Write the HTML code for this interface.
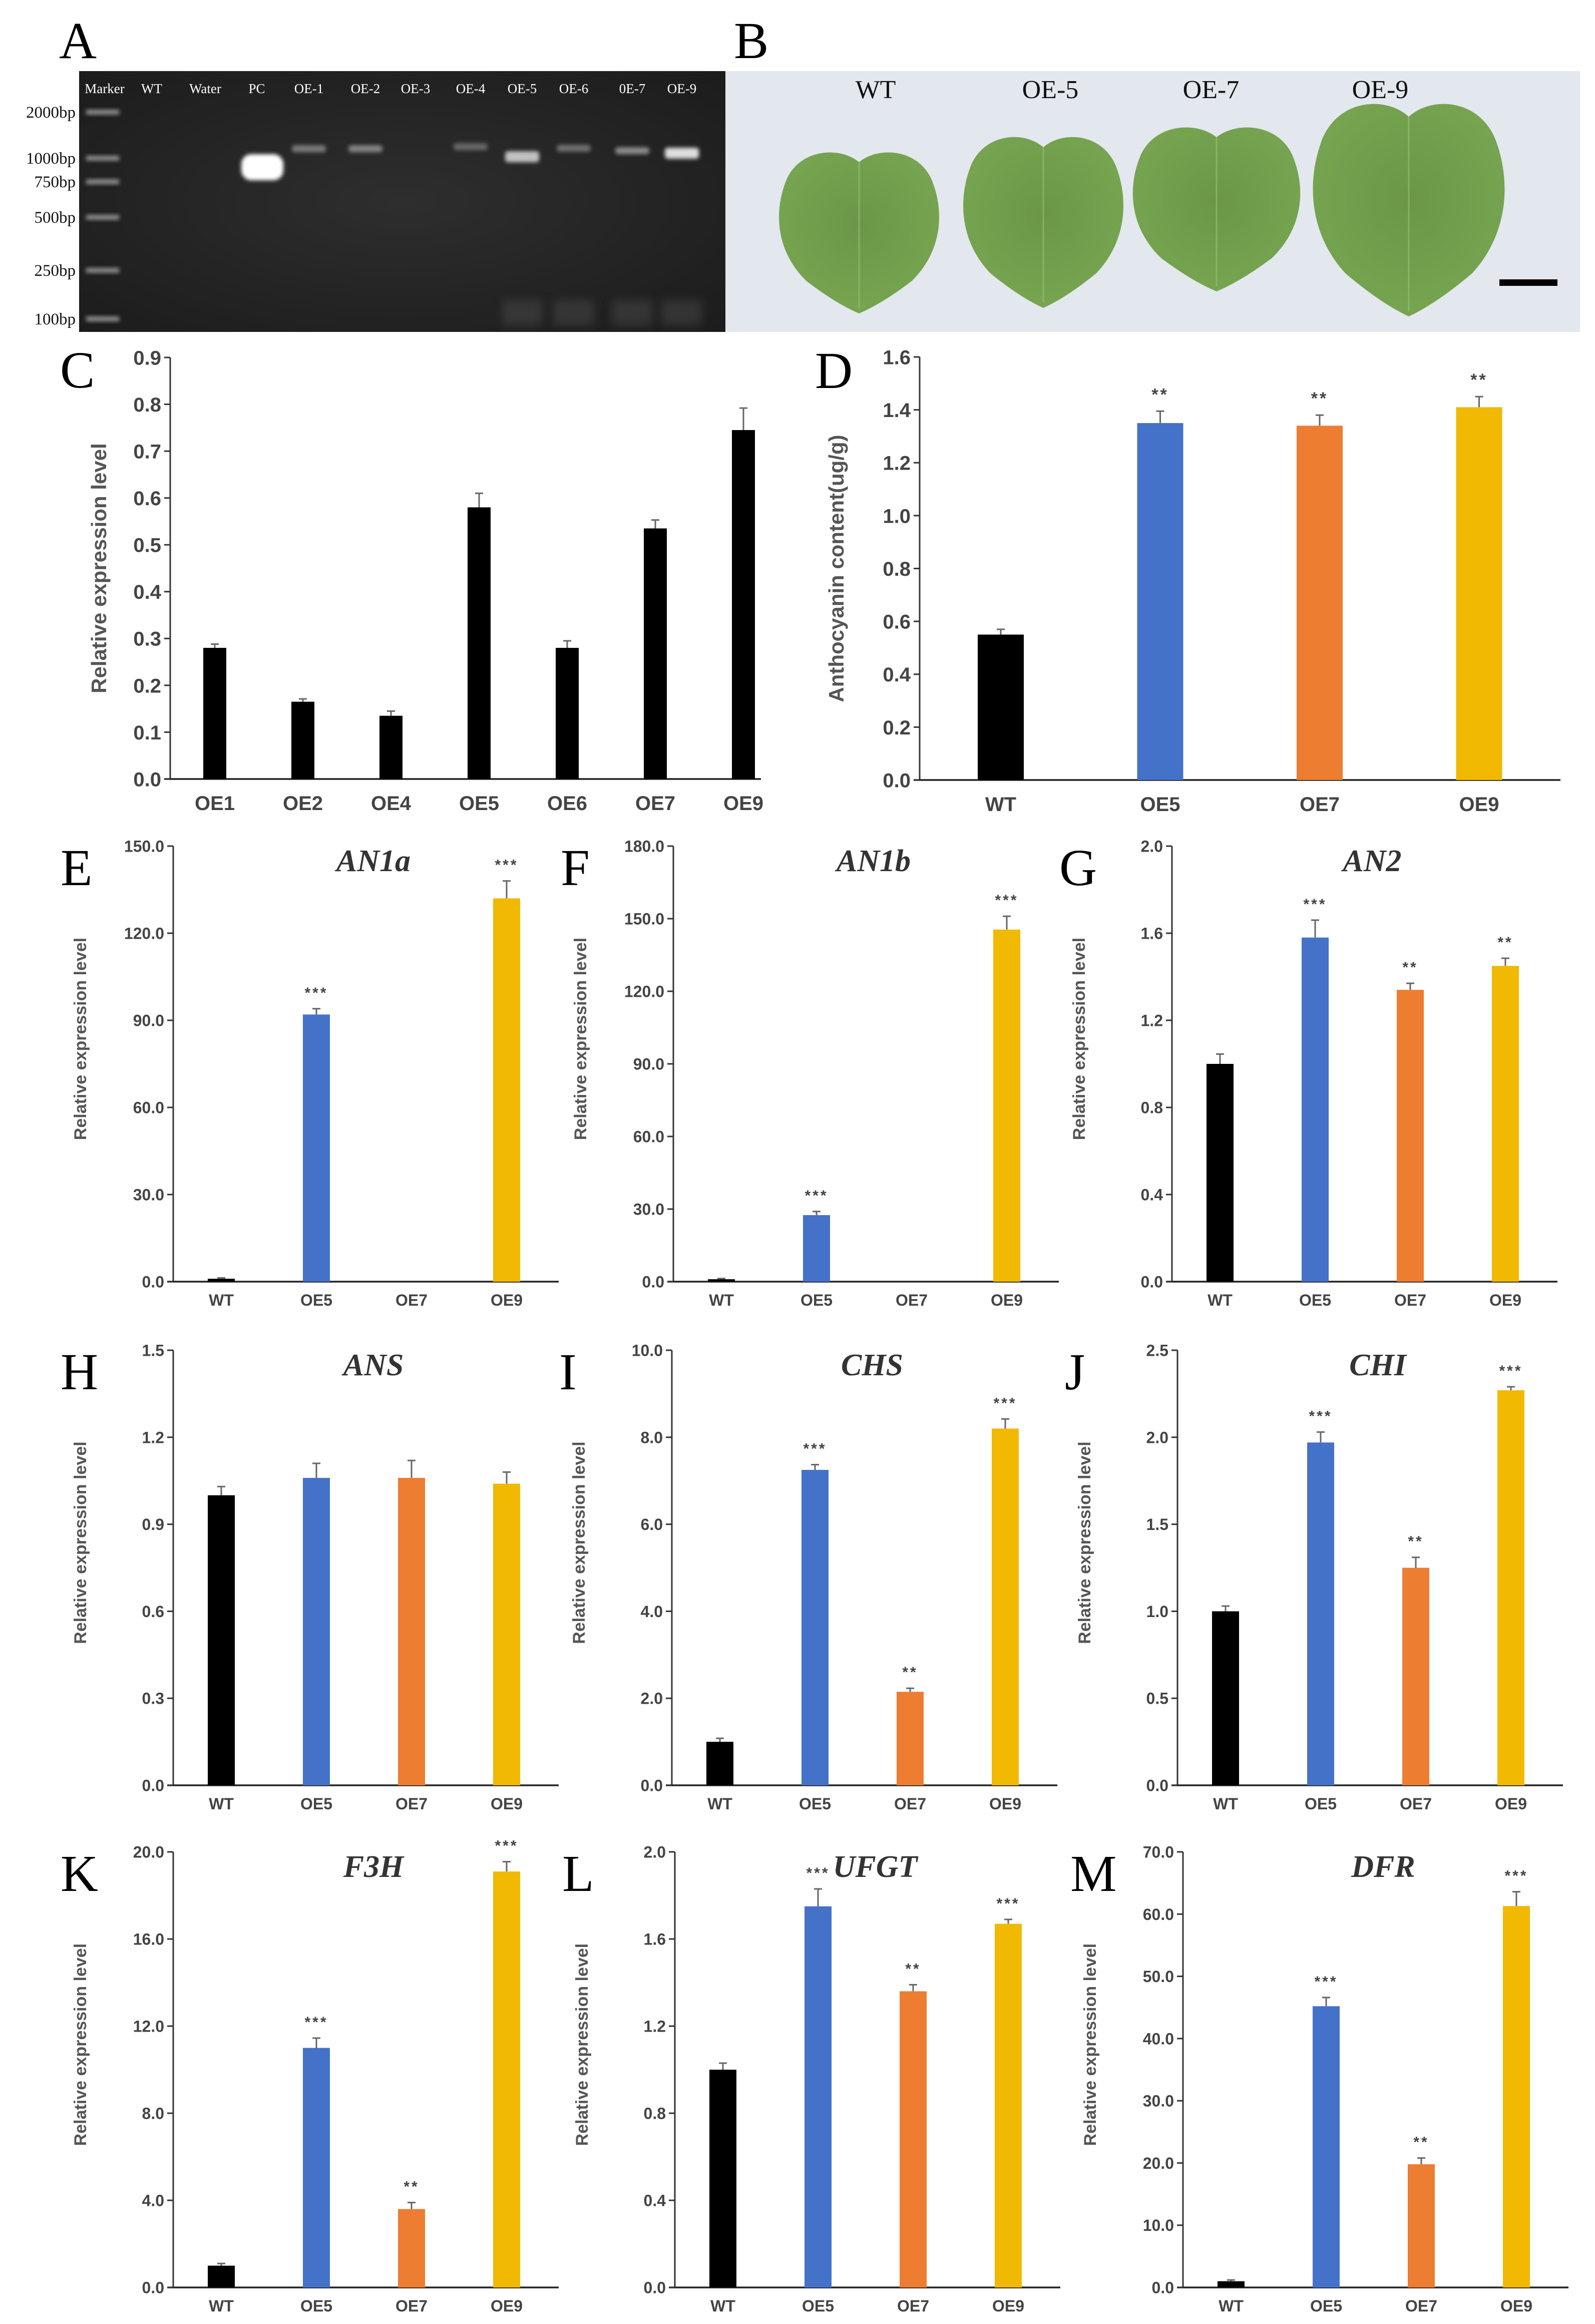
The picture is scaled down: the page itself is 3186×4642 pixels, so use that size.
<!DOCTYPE html>
<html><head><meta charset="utf-8"><title>Anthocyanin figure</title>
<style>
html,body{margin:0;padding:0;background:#fff;}
svg{display:block;}
</style></head>
<body>
<svg id="fig" xmlns="http://www.w3.org/2000/svg" width="3186" height="4642" viewBox="0 0 3186 4642">
<defs>
<filter id="blur" x="-50%" y="-50%" width="200%" height="200%"><feGaussianBlur stdDeviation="4"/></filter>
<filter id="blur2" x="-50%" y="-50%" width="200%" height="200%"><feGaussianBlur stdDeviation="9"/></filter>
<radialGradient id="gelbg" cx="0.5" cy="0.5" r="0.7"><stop offset="0" stop-color="#2e2e2e"/><stop offset="1" stop-color="#1c1c1c"/></radialGradient>
<radialGradient id="leafg" cx="0.5" cy="0.45" r="0.6"><stop offset="0" stop-color="#6a9646"/><stop offset="1" stop-color="#78a652"/></radialGradient>
</defs>
<g id="layer"></g>
</svg>
<script>
// ---------- Panel C data ----------
const cCategories = ["OE1","OE2","OE4","OE5","OE6","OE7","OE9"];
const cValues = [0.28,0.165,0.135,0.58,0.28,0.535,0.745];
const cErrors = [0.008,0.006,0.01,0.03,0.015,0.018,0.047];
const cTicks = ["0.0","0.1","0.2","0.3","0.4","0.5","0.6","0.7","0.8","0.9"];
// ---------- Panel D data ----------
const lineCategories = ["WT","OE5","OE7","OE9"];
const dValues = [0.55,1.35,1.34,1.41];
const dErrors = [0.02,0.045,0.04,0.04];
const dStars = ["","**","**","**"];
const dTicks = ["0.0","0.2","0.4","0.6","0.8","1.0","1.2","1.4","1.6"];
// ---------- Gene panels ----------
const geneNames = ["AN1a","AN1b","AN2","ANS","CHS","CHI","F3H","UFGT","DFR"];
const an1aValues=[1.0,92,0,132], an1aErrors=[0.3,2,0,6], an1aStars=["","***","","***"];
const an1aTicks=["0.0","30.0","60.0","90.0","120.0","150.0"];
const an1bValues=[1.0,27.5,0,145.5], an1bErrors=[0.3,1.5,0,5.5], an1bStars=["","***","","***"];
const an1bTicks=["0.0","30.0","60.0","90.0","120.0","150.0","180.0"];
const an2Values=[1.0,1.58,1.34,1.45], an2Errors=[0.045,0.08,0.03,0.035], an2Stars=["","***","**","**"];
const an2Ticks=["0.0","0.4","0.8","1.2","1.6","2.0"];
const ansValues=[1.0,1.06,1.06,1.04], ansErrors=[0.03,0.05,0.06,0.04], ansStars=["","","",""];
const ansTicks=["0.0","0.3","0.6","0.9","1.2","1.5"];
const chsValues=[1.0,7.25,2.15,8.2], chsErrors=[0.08,0.12,0.08,0.22], chsStars=["","***","**","***"];
const chsTicks=["0.0","2.0","4.0","6.0","8.0","10.0"];
const chiValues=[1.0,1.97,1.25,2.27], chiErrors=[0.03,0.06,0.06,0.02], chiStars=["","***","**","***"];
const chiTicks=["0.0","0.5","1.0","1.5","2.0","2.5"];
const f3hValues=[1.0,11.0,3.6,19.1], f3hErrors=[0.1,0.45,0.3,0.45], f3hStars=["","***","**","***"];
const f3hTicks=["0.0","4.0","8.0","12.0","16.0","20.0"];
const ufgtValues=[1.0,1.75,1.36,1.67], ufgtErrors=[0.03,0.08,0.03,0.02], ufgtStars=["","***","**","***"];
const ufgtTicks=["0.0","0.4","0.8","1.2","1.6","2.0"];
const dfrValues=[1.0,45.2,19.8,61.3], dfrErrors=[0.2,1.4,1.0,2.3], dfrStars=["","***","**","***"];
const dfrTicks=["0.0","10.0","20.0","30.0","40.0","50.0","60.0","70.0"];

const NS="http://www.w3.org/2000/svg";
const root=document.getElementById('layer');
const barColors=["#000000","#4472c9","#ed7d31","#f1b901"];
function mk(tag,attrs,parent,text){
  const e=document.createElementNS(NS,tag);
  for(const k in attrs) e.setAttribute(k,attrs[k]);
  if(text!==undefined) e.textContent=text;
  (parent||root).appendChild(e);
  return e;
}
function panelLetter(ch,x,y,g){
  const t=mk('text',{x:x,y:y,'font-family':'"Liberation Serif",serif','font-size':104,fill:'#000'},g,ch);
  
  
}

function barChart(o){
  const g=mk('g',{});
  
  
  const maxV=parseFloat(o.ticks[o.ticks.length-1]);
  const yS=v=>o.bottom-(v/maxV)*(o.bottom-o.top);
  const xS=i=>o.axisX+o.offset+i*o.step;
  const ya=mk('line',{x1:o.axisX,y1:o.top,x2:o.axisX,y2:o.bottom,stroke:'#333','stroke-width':3},g);
  
  
  const xa=mk('line',{x1:o.axisX-12,y1:o.bottom,x2:o.axisX+o.len,y2:o.bottom,stroke:'#222','stroke-width':3.5},g);
  
  
  o.ticks.forEach(t=>{
    const y=yS(parseFloat(t));
    mk('line',{x1:o.axisX-12,y1:y,x2:o.axisX,y2:y,stroke:'#333','stroke-width':3},g);
    const tl=mk('text',{x:o.axisX-18,y:y+o.tfs*0.36,'text-anchor':'end','font-family':'"Liberation Sans",sans-serif','font-weight':'bold','font-size':o.tfs,fill:'#444'},g,t);
    
    
  });
  o.values.forEach((v,i)=>{
    const x=xS(i), y=yS(v);
    const col=o.colors[i];
    if(o.errors[i]>0){
      const ye=yS(v+o.errors[i]);
      mk('line',{x1:x,y1:y,x2:x,y2:ye,stroke:'#666','stroke-width':3},g);
      mk('line',{x1:x-8,y1:ye,x2:x+8,y2:ye,stroke:'#666','stroke-width':3},g);
    }
    const b=mk('rect',{x:x-o.bw/2,y:y,width:o.bw,height:Math.max(o.bottom-y,0),fill:col},g);
    
    
    if(o.stars && o.stars[i]){
      const st=mk('text',{x:x,y:yS(v+o.errors[i])-22,'text-anchor':'middle','font-family':'"Liberation Sans",sans-serif','font-weight':'bold','font-size':o.sfs,fill:'#444','letter-spacing':4},g,o.stars[i]);
      
      
    }
    const xl=mk('text',{x:x,y:o.bottom+o.xly,'text-anchor':'middle','font-family':'"Liberation Sans",sans-serif','font-weight':'bold','font-size':o.xfs,fill:'#444'},g,o.cats[i]);
    
    
  });
  const cy=(o.top+o.bottom)/2+o.ytOff;
  const yt=mk('text',{x:o.ytX,y:cy,'text-anchor':'middle','font-family':'"Liberation Sans",sans-serif','font-weight':'bold','font-size':o.yfs,fill:'#555',transform:'rotate(-90 '+o.ytX+' '+cy+')'},g,o.ytitle);
  
  
  if(o.title){
    const tt=mk('text',{x:o.axisX+400,y:o.top+50,'text-anchor':'middle','font-family':'"Liberation Serif",serif','font-weight':'bold','font-style':'italic','font-size':62,fill:'#333'},g,o.title);
    
    
  }
  return g;
}

// ---------- Panel A: gel ----------
(function(){
  const g=mk('g',{});
  
  
  mk('rect',{x:158,y:142,width:1291,height:521,fill:'url(#gelbg)'},g);
  const lanes=[["Marker",209],["WT",303],["Water",410],["PC",513],["OE-1",617],["OE-2",730],["OE-3",830],["OE-4",940],["OE-5",1043],["OE-6",1146],["0E-7",1263],["OE-9",1362]];
  lanes.forEach(l=>{
    const t=mk('text',{x:l[1],y:186,'text-anchor':'middle','font-family':'"Liberation Serif",serif','font-size':27,fill:'#fff'},g,l[0]);
    
    
  });
  const markers=[["2000bp",224],["1000bp",316],["750bp",363],["500bp",434],["250bp",540],["100bp",637]];
  markers.forEach(m=>{
    mk('rect',{x:172,y:m[1]-5,width:66,height:10,fill:'#8a8a8a',filter:'url(#blur)'},g);
    const t=mk('text',{x:151,y:m[1]+11,'text-anchor':'end','font-family':'"Liberation Serif",serif','font-size':33,fill:'#111'});
    t.textContent=m[0];
    
    
  });
  mk('rect',{x:482,y:308,width:84,height:52,rx:20,fill:'#fff',filter:'url(#blur)'},g);
  const bands=[[617,298,0.45],[730,298,0.5],[940,294,0.35],[1043,310,0.85],[1146,297,0.4],[1263,302,0.55],[1362,303,1]];
  bands.forEach(b=>mk('rect',{x:b[0]-34,y:b[1]-8,width:68,height:b[2]>0.8?22:14,rx:6,fill:'#ddd',opacity:b[2],filter:'url(#blur)'},g));
  [1043,1146,1263,1362].forEach(x=>mk('rect',{x:x-40,y:600,width:80,height:50,fill:'#555',opacity:0.4,filter:'url(#blur2)'},g));
})();
panelLetter('A',118,116);

// ---------- Panel B: leaves ----------
(function(){
  const g=mk('g',{});
  
  
  mk('rect',{x:1449,y:142,width:1707,height:521,fill:'#e3e7ee'},g);
  const leaves=[["WT",1716,301,626,330],["OE-5",2084,270,615,330],["OE-7",2430,251,582,345],["OE-9",2814,203,632,395]];
  leaves.forEach(l=>{
    const cx=l[1],t=l[2],b=l[3],w=l[4],h=b-t;
    const d=`M${cx},${t+h*0.07} C${cx-w*0.12},${t-h*0.03} ${cx-w*0.36},${t-h*0.01} ${cx-w*0.44},${t+h*0.18} C${cx-w*0.52},${t+h*0.38} ${cx-w*0.5},${t+h*0.62} ${cx-w*0.32},${t+h*0.8} Q${cx-w*0.14},${t+h*0.94} ${cx},${b} Q${cx+w*0.14},${t+h*0.94} ${cx+w*0.32},${t+h*0.8} C${cx+w*0.5},${t+h*0.62} ${cx+w*0.52},${t+h*0.38} ${cx+w*0.44},${t+h*0.18} C${cx+w*0.36},${t-h*0.01} ${cx+w*0.12},${t-h*0.03} ${cx},${t+h*0.07} Z`;
    const p=mk('path',{d:d,fill:'url(#leafg)'},g);
    
    
    mk('line',{x1:cx,y1:t+h*0.07,x2:cx,y2:b-10,stroke:'#9cc077','stroke-width':3,opacity:0.6},g);
  });
  const labs=[["WT",1749],["OE-5",2098],["OE-7",2419],["OE-9",2757]];
  labs.forEach(l=>{
    const t=mk('text',{x:l[1],y:196,'text-anchor':'middle','font-family':'"Liberation Serif",serif','font-size':52,fill:'#111'},g,l[0]);
    
    
  });
  const sb=mk('rect',{x:2995,y:558,width:116,height:13,fill:'#000'},g);
  
  
})();
panelLetter('B',1466,116);

// ---------- Panel C ----------
barChart({name:'chart-c',axisX:340,top:714,bottom:1556,len:1180,offset:89,step:176,bw:46,
  cats:cCategories,values:cValues,errors:cErrors,colors:cCategories.map(()=>'#000'),ticks:cTicks,
  tfs:40,xfs:40,sfs:30,xly:62,ytX:212,ytOff:0,yfs:42,ytitle:'Relative expression level'});
panelLetter('C',120,774);

// ---------- Panel D ----------
barChart({name:'chart-d',axisX:1837,top:713,bottom:1558,len:1280,offset:162,step:318.5,bw:92,
  cats:lineCategories,values:dValues,errors:dErrors,stars:dStars,colors:barColors,ticks:dTicks,
  tfs:40,xfs:40,sfs:34,xly:62,ytX:1685,ytOff:0,yfs:42,ytitle:'Anthocyanin content(ug/g)'});
panelLetter('D',1628,775);

// ---------- Gene panels ----------
const geneData=[
  [an1aValues,an1aErrors,an1aStars,an1aTicks],
  [an1bValues,an1bErrors,an1bStars,an1bTicks],
  [an2Values,an2Errors,an2Stars,an2Ticks],
  [ansValues,ansErrors,ansStars,ansTicks],
  [chsValues,chsErrors,chsStars,chsTicks],
  [chiValues,chiErrors,chiStars,chiTicks],
  [f3hValues,f3hErrors,f3hStars,f3hTicks],
  [ufgtValues,ufgtErrors,ufgtStars,ufgtTicks],
  [dfrValues,dfrErrors,dfrStars,dfrTicks]
];
const rowsTB=[[1690,2560],[2697,3566],[3699,4569]];
const colAxis=[[346,1345,2341],[346,1342,2352],[346,1348,2363]];
const letters=["E","F","G","H","I","J","K","L","M"];
geneNames.forEach((gn,k)=>{
  const r=Math.floor(k/3),c=k%3;
  const ax=colAxis[r][c];
  const d=geneData[k];
  barChart({name:'chart-'+gn.toLowerCase(),axisX:ax,top:rowsTB[r][0],bottom:rowsTB[r][1],len:770,offset:96,step:190,bw:54,
    cats:lineCategories,values:d[0],errors:d[1],stars:d[2],colors:barColors,ticks:d[3],
    tfs:32,xfs:32,sfs:30,xly:48,ytX:ax-174,ytOff:-50,yfs:34,ytitle:'Relative expression level',title:gn});
  panelLetter(letters[k],ax-225,rowsTB[r][0]+78);
});
</script>
</body></html>
